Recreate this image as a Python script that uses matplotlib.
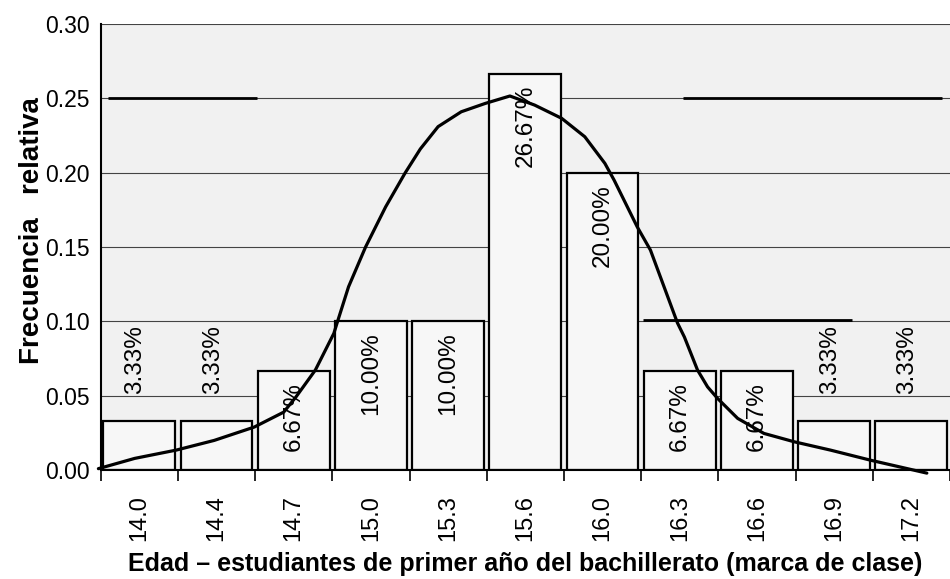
import matplotlib
matplotlib.use("Agg")
import matplotlib.pyplot as plt
import numpy as np

plt.rcParams['font.family'] = ['Liberation Sans', 'DejaVu Sans']

# ---- data ----
categories = ["14.0", "14.4", "14.7", "15.0", "15.3", "15.6", "16.0", "16.3", "16.6", "16.9", "17.2"]
rel_freq = [0.0333, 0.0333, 0.0667, 0.10, 0.10, 0.2667, 0.20, 0.0667, 0.0667, 0.0333, 0.0333]
bar_labels = ["3.33%", "3.33%", "6.67%", "10.00%", "10.00%", "26.67%", "20.00%", "6.67%", "6.67%", "3.33%", "3.33%"]

# fitted curve (x in category-index units)
curve_x = [-0.53, -0.06, 0.48, 0.97, 1.49, 1.87, 2.03, 2.28, 2.52, 2.56, 2.71, 2.93, 3.19,
           3.44, 3.64, 3.87, 4.17, 4.48, 4.80, 5.12, 5.47, 5.77, 6.03, 6.15, 6.45, 6.62,
           6.97, 7.06, 7.23, 7.36, 7.49, 7.75, 8.09, 8.48, 8.95, 9.47, 10.20]
curve_y = [0.001, 0.0079, 0.0135, 0.020, 0.029, 0.039, 0.0493, 0.0673, 0.092, 0.0987, 0.1233, 0.150, 0.177,
           0.1996, 0.216, 0.231, 0.241, 0.2466, 0.2516, 0.2455, 0.2366, 0.2242, 0.2063, 0.195, 0.1635, 0.148,
           0.099, 0.0895, 0.0673, 0.056, 0.0482, 0.0348, 0.0247, 0.0191, 0.0135, 0.0067, -0.002]

# extra heavy reference strokes seen on the chart (level, start, end in category units)
ref_levels = [0.25, 0.25, 0.101]
ref_starts = [-0.41, 7.04, 6.52]
ref_ends = [1.53, 10.4, 9.23]

yticks = [0.00, 0.05, 0.10, 0.15, 0.20, 0.25, 0.30]

# ---- figure ----
fig = plt.figure(figsize=(9.5, 5.79), dpi=100)
ax = fig.add_axes([0.106, 0.188, 0.894, 0.7705])
ax.set_facecolor('#f1f1f1')

x = np.arange(len(categories))
ax.set_axisbelow(True)
ax.yaxis.grid(True, color='#444444', linewidth=0.8)

ax.hlines(ref_levels, ref_starts, ref_ends, colors='black', linewidth=2.0, zorder=1.5)

bars = ax.bar(x, rel_freq, width=0.93, color='#f7f7f7', edgecolor='black', linewidth=1.6, zorder=2)

for xi, v, lab in zip(x, rel_freq, bar_labels):
    if v < 0.05:
        ax.annotate(lab, (xi - 0.05, v), xytext=(0, 19.5), textcoords='offset points',
                    rotation=90, ha='center', va='bottom', fontsize=17.5, zorder=4)
    else:
        ax.annotate(lab, (xi, v), xytext=(0, -8), textcoords='offset points',
                    rotation=90, ha='center', va='top', fontsize=17.5, zorder=4)

ax.plot(curve_x, curve_y, color='black', linewidth=2.3, zorder=3, clip_on=False,
        solid_capstyle='round', solid_joinstyle='round')

ax.set_xlim(-0.5, 10.45)
ax.set_ylim(0, 0.30)
ax.set_yticks(yticks)
ax.set_yticklabels([f"{t:.2f}" for t in yticks], fontsize=16.5)
ax.tick_params(axis='y', length=0, pad=8)

ax.set_xticks(x)
ax.set_xticklabels(categories, rotation=90, fontsize=17)
ax.set_xticks(np.arange(-0.5, 10.6, 1.0), minor=True)
ax.tick_params(axis='x', which='major', length=0, pad=18)
ax.tick_params(axis='x', which='minor', length=8, width=1.2, color='black')

for s in ['top', 'right']:
    ax.spines[s].set_visible(False)
ax.spines['left'].set_linewidth(1.5)
ax.spines['bottom'].set_linewidth(1.5)

ax.set_ylabel("Frecuencia   relativa", fontsize=20, fontweight='bold')
ax.yaxis.set_label_coords(-0.065, 0.538)
ax.set_xlabel("Edad – estudiantes de primer año del bachillerato (marca de clase)",
              fontsize=18, fontweight='bold', labelpad=8)

fig.savefig("out.png", dpi=100)
